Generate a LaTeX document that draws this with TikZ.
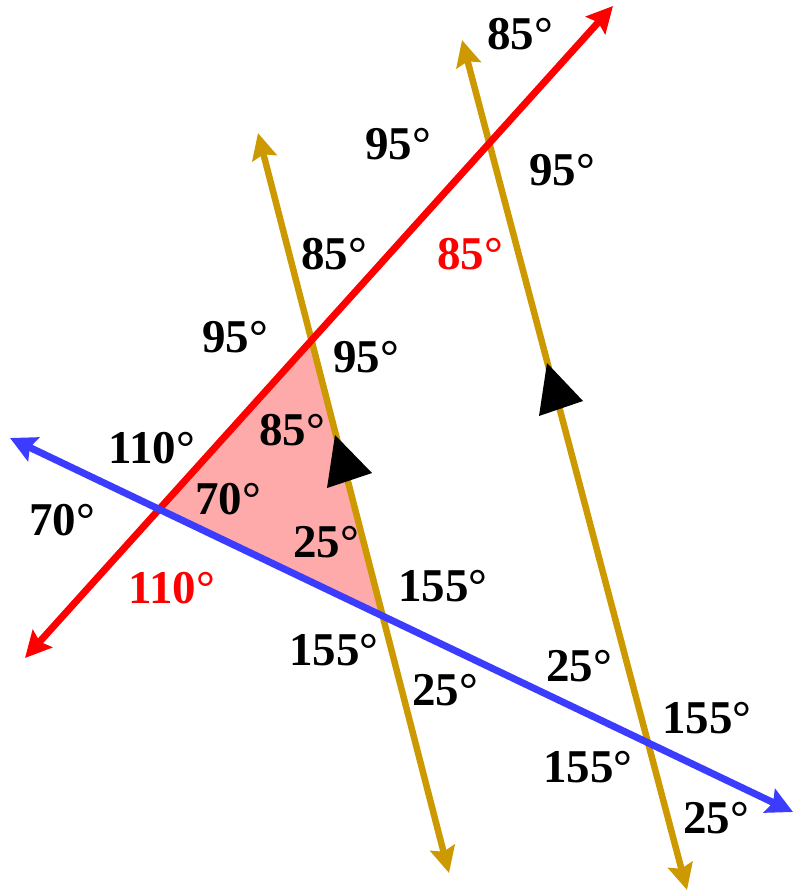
\documentclass[tikz,border=0pt]{standalone}
\usepackage{fontspec}
\setmainfont{Liberation Serif}
\usetikzlibrary{arrows.meta}
\definecolor{redl}{HTML}{FF0000}
\definecolor{bluel}{HTML}{3C3CFF}
\definecolor{goldl}{HTML}{CC9900}
\definecolor{pinkf}{HTML}{FFAAAA}
\tikzset{
  lineR/.style={line width=7pt, draw=redl, {Stealth[length=26pt,width=26pt,inset=4pt]}-{Stealth[length=26pt,width=26pt,inset=4pt]}},
  lineB/.style={line width=7pt, draw=bluel, {Stealth[length=26pt,width=26pt,inset=4pt]}-{Stealth[length=26pt,width=26pt,inset=4pt]}},
  lineG/.style={line width=6.5pt, draw=goldl, {Stealth[length=26pt,width=25pt,inset=4pt]}-{Stealth[length=26pt,width=25pt,inset=4pt]}},
  ang/.style={anchor=base west, inner sep=0pt, font=\fontsize{47}{52}\selectfont\bfseries},
  angred/.style={ang, text=redl},
  parmark/.style={fill=black, draw=none}
}
\begin{document}
\begin{tikzpicture}[x=1pt,y=-1pt]
\useasboundingbox (0,0) rectangle (794,891);
% line end points
\coordinate (R1) at (25,658);
\coordinate (R2) at (613,6);
\coordinate (B1) at (10,438);
\coordinate (B2) at (793,812);
\coordinate (G1a) at (258,133);
\coordinate (G1b) at (449,873);
\coordinate (G2a) at (462,40);
\coordinate (G2b) at (687,890);
% triangle vertices
\coordinate (P) at (intersection of R1--R2 and B1--B2);
\coordinate (Q) at (intersection of R1--R2 and G1a--G1b);
\coordinate (S) at (intersection of B1--B2 and G1a--G1b);
\fill[pinkf] (P) -- (Q) -- (S) -- cycle;
% lines
\draw[lineG] (G1a) -- (G1b);
\draw[lineG] (G2a) -- (G2b);
\draw[lineR] (R1) -- (R2);
\draw[lineB] (B1) -- (B2);
% parallel marks
\coordinate (m1a) at (335,435);
\coordinate (m1b) at (372,473);
\coordinate (m1c) at (327,488);
\coordinate (m2a) at (547,363);
\coordinate (m2b) at (583,401);
\coordinate (m2c) at (539,416);
\fill[parmark] (m1a) -- (m1b) -- (m1c) -- cycle;
\fill[parmark] (m2a) -- (m2b) -- (m2c) -- cycle;
% angle labels
\node[ang] (a1) at (487,50) {85°};
\node[ang] (a2) at (365,159) {95°};
\node[ang] (a3) at (529,185) {95°};
\node[ang] (a4) at (301,269) {85°};
\node[angred] (a5) at (437,269) {85°};
\node[ang] (a6) at (202,352) {95°};
\node[ang] (a7) at (333,372) {95°};
\node[ang] (a8) at (259,445) {85°};
\node[ang] (a9) at (108,463) {110°};
\node[ang] (a10) at (29,535) {70°};
\node[ang] (a11) at (195,514) {70°};
\node[angred] (a12) at (128,603) {110°};
\node[ang] (a13) at (293,557) {25°};
\node[ang] (a14) at (398,601) {155°};
\node[ang] (a15) at (289,665) {155°};
\node[ang] (a16) at (412,705) {25°};
\node[ang] (a17) at (546,681) {25°};
\node[ang] (a18) at (662,733) {155°};
\node[ang] (a19) at (543,782) {155°};
\node[ang] (a20) at (683,833) {25°};
\end{tikzpicture}
\end{document}
